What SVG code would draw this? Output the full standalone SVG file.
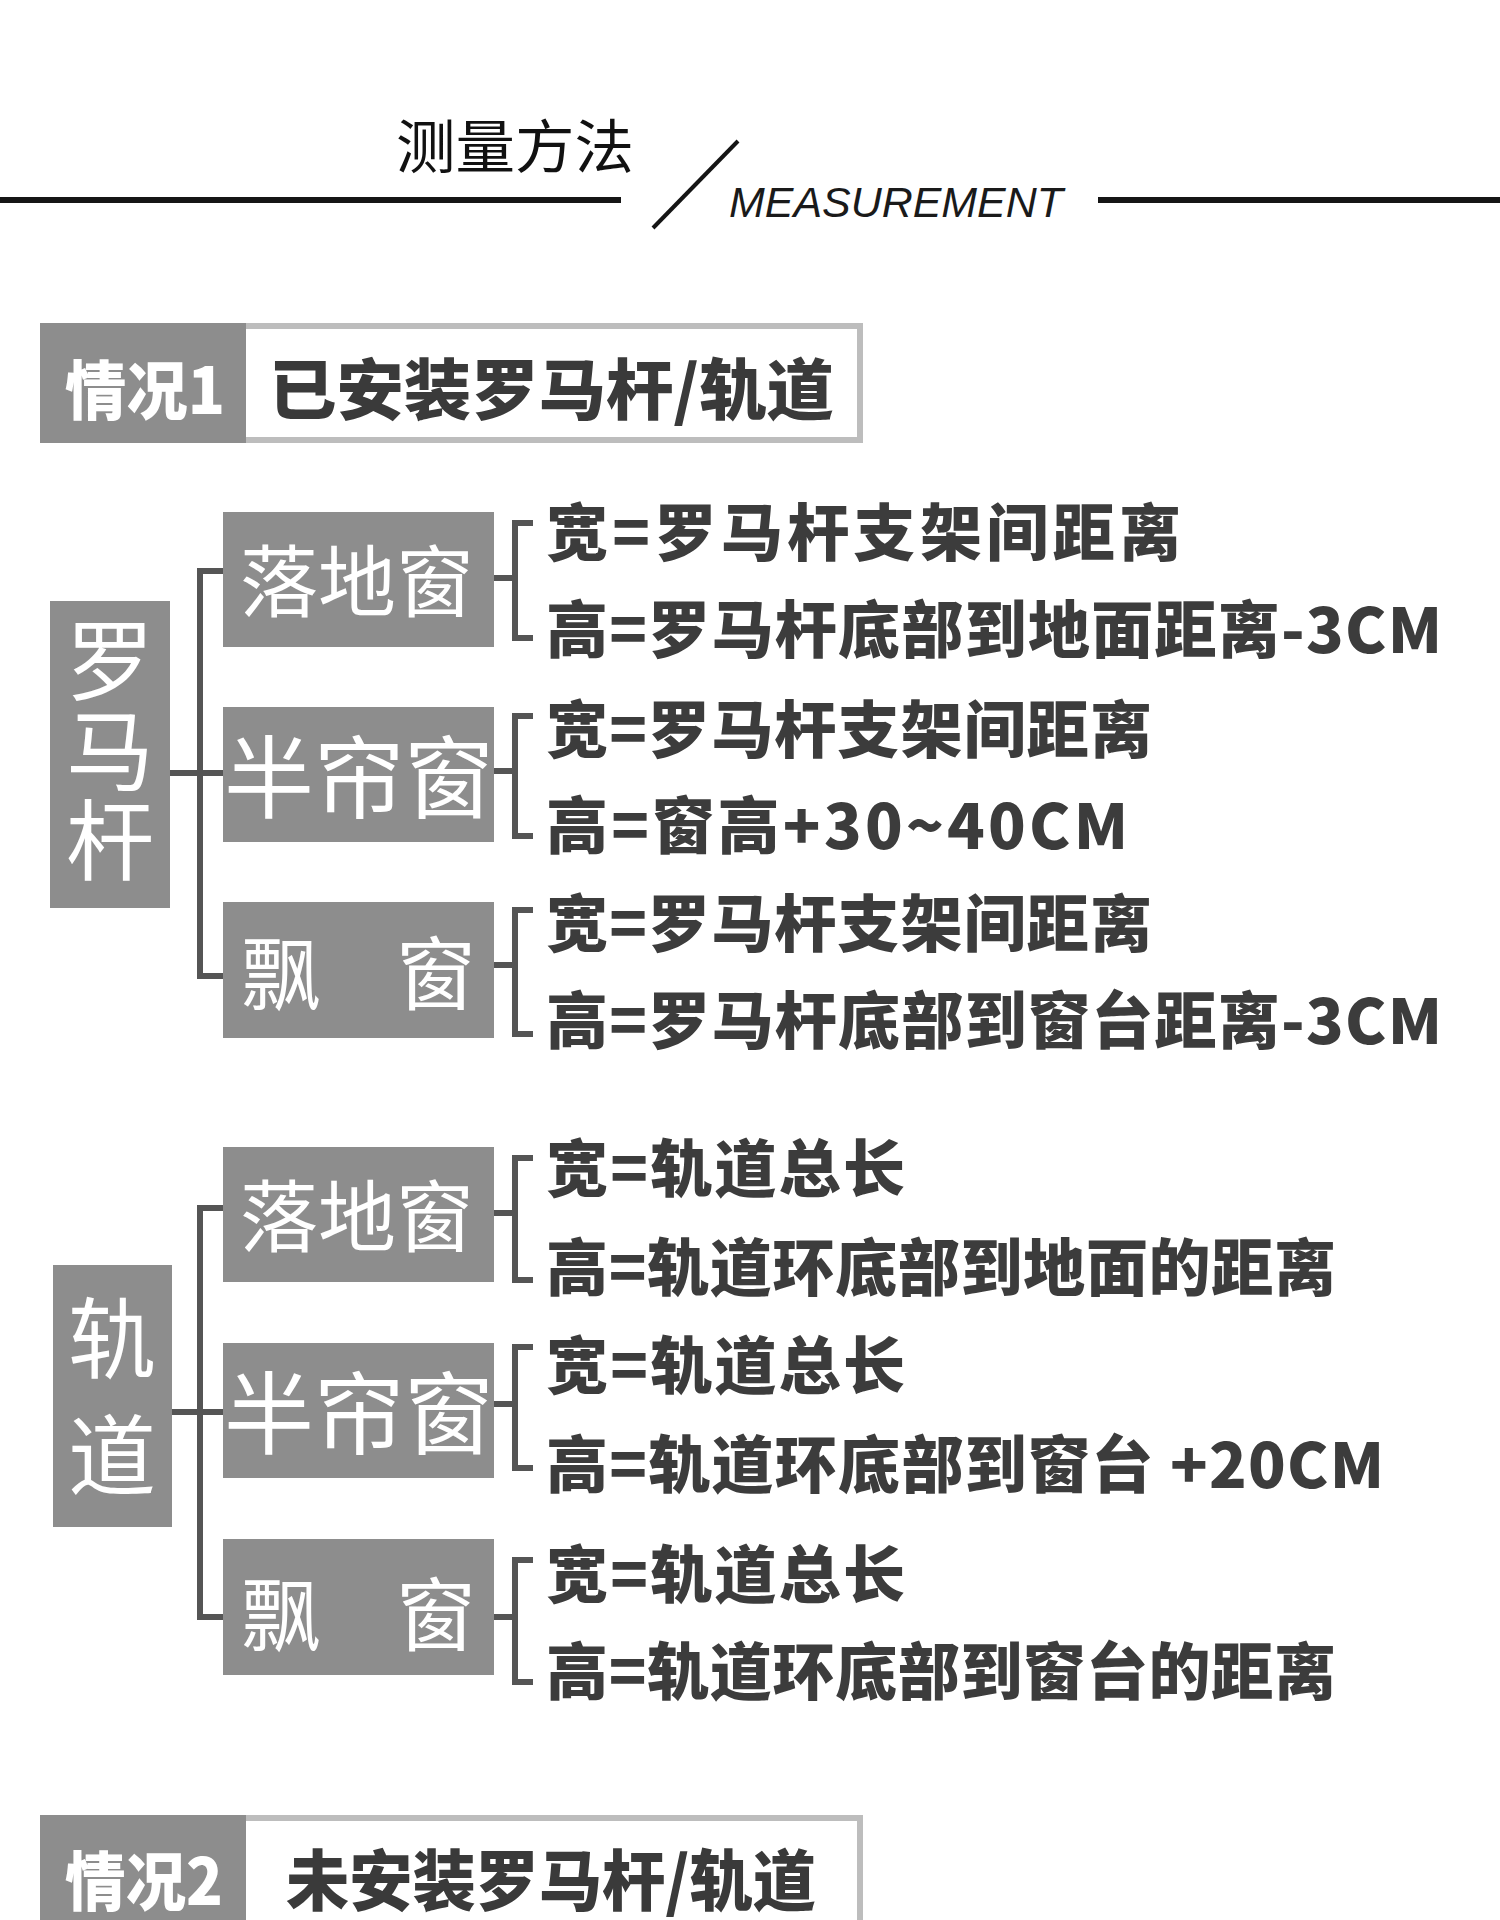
<svg xmlns="http://www.w3.org/2000/svg" width="1500" height="1920" viewBox="0 0 1500 1920">
<style>
.box{fill:#8d8d8d}
.lbl{fill:#ffffff;font-family:"Noto Sans CJK SC","Noto Sans",sans-serif;font-weight:400}
.vlbl{fill:#ffffff;font-family:"Noto Sans CJK SC","Noto Sans",sans-serif;font-weight:400;font-size:88px;writing-mode:tb}
.line{fill:#3c3c3c;font-family:"Noto Sans CJK SC","Noto Sans",sans-serif;font-weight:900;font-size:62px}
.conn{fill:none;stroke:#555555;stroke-width:6}
.ttl{font-family:"Noto Sans CJK SC","Noto Sans",sans-serif;font-weight:900}
</style>
<rect width="1500" height="1920" fill="#ffffff"/>
<g id="header">
<rect x="0" y="197" width="621" height="6" fill="#151515"/>
<rect x="1098" y="197" width="402" height="6" fill="#151515"/>
<line x1="653" y1="228" x2="738" y2="141" stroke="#151515" stroke-width="4"/>
<text x="396" y="168" font-family="'Noto Sans CJK SC',sans-serif" font-size="58" fill="#111111" textLength="238" lengthAdjust="spacingAndGlyphs">测量方法</text>
<text x="729" y="217" font-family="'Liberation Sans',Arial,sans-serif" font-style="italic" font-size="42" fill="#1a1a1a" textLength="334" lengthAdjust="spacingAndGlyphs">MEASUREMENT</text>
</g>
<g id="case1">
<rect x="43" y="326" width="817" height="114" fill="#ffffff" stroke="#bdbdbd" stroke-width="6"/>
<rect x="40" y="323" width="206" height="120" fill="#8d8d8d"/>
<text class="ttl" x="65" y="414" font-size="64" fill="#ffffff" textLength="160" lengthAdjust="spacingAndGlyphs">情况1</text>
<text class="ttl" x="269" y="414" font-size="66" fill="#3a3a3a" textLength="565" lengthAdjust="spacingAndGlyphs">已安装罗马杆/轨道</text>
</g>
<g id="connectors">
<path class="conn" d="M170 773 H223 M223 571 H200 V976 H223"/>
<path class="conn" d="M494 578 H515 M533 523 H515 V638 H533"/>
<path class="conn" d="M494 771 H515 M533 716 H515 V836 H533"/>
<path class="conn" d="M494 965 H515 M533 910 H515 V1034 H533"/>
<path class="conn" d="M172 1412 H223 M223 1208 H200 V1617 H223"/>
<path class="conn" d="M494 1213 H515 M533 1158 H515 V1280 H533"/>
<path class="conn" d="M494 1404 H515 M533 1347 H515 V1468 H533"/>
<path class="conn" d="M494 1617 H515 M533 1560 H515 V1682 H533"/>
</g>
<g id="root-rod">
<rect class="box" x="50" y="601" width="120" height="307"/>
<text class="vlbl" x="110" y="616" letter-spacing="2">罗马杆</text>
</g>
<g id="rod-floor">
<rect class="box" x="223" y="512" width="271" height="135"/>
<text class="lbl" x="357" y="611" font-size="78" text-anchor="middle">落地窗</text>
</g>
<g id="rod-half">
<rect class="box" x="223" y="707" width="271" height="135"/>
<text class="lbl" x="359" y="811" font-size="90" text-anchor="middle">半帘窗</text>
</g>
<g id="rod-bay">
<rect class="box" x="223" y="902" width="271" height="136"/>
<text class="lbl" font-size="80" text-anchor="middle"><tspan x="281" y="1003">飘</tspan><tspan x="436" y="1003">窗</tspan></text>
</g>
<g id="rod-texts">
<text class="line" x="546" y="556" textLength="635" lengthAdjust="spacing">宽=罗马杆支架间距离</text>
<text class="line" x="546" y="653" textLength="896" lengthAdjust="spacing">高=罗马杆底部到地面距离-3CM</text>
<text class="line" x="546" y="753" textLength="606" lengthAdjust="spacing">宽=罗马杆支架间距离</text>
<text class="line" x="546" y="849" textLength="582" lengthAdjust="spacing">高=窗高+30~40CM</text>
<text class="line" x="546" y="947" textLength="606" lengthAdjust="spacing">宽=罗马杆支架间距离</text>
<text class="line" x="546" y="1044" textLength="896" lengthAdjust="spacing">高=罗马杆底部到窗台距离-3CM</text>
</g>
<g id="root-track">
<rect class="box" x="53" y="1265" width="119" height="262"/>
<text class="vlbl" x="112" y="1294" letter-spacing="29">轨道</text>
</g>
<g id="track-floor">
<rect class="box" x="223" y="1147" width="271" height="135"/>
<text class="lbl" x="357" y="1246" font-size="78" text-anchor="middle">落地窗</text>
</g>
<g id="track-half">
<rect class="box" x="223" y="1343" width="271" height="135"/>
<text class="lbl" x="359" y="1447" font-size="90" text-anchor="middle">半帘窗</text>
</g>
<g id="track-bay">
<rect class="box" x="223" y="1539" width="271" height="136"/>
<text class="lbl" font-size="80" text-anchor="middle"><tspan x="281" y="1644">飘</tspan><tspan x="436" y="1644">窗</tspan></text>
</g>
<g id="track-texts">
<text class="line" x="546" y="1192" textLength="359" lengthAdjust="spacing">宽=轨道总长</text>
<text class="line" x="546" y="1291" textLength="790" lengthAdjust="spacing">高=轨道环底部到地面的距离</text>
<text class="line" x="546" y="1389" textLength="359" lengthAdjust="spacing">宽=轨道总长</text>
<text class="line" x="546" y="1488" textLength="838" lengthAdjust="spacing">高=轨道环底部到窗台 +20CM</text>
<text class="line" x="546" y="1598" textLength="359" lengthAdjust="spacing">宽=轨道总长</text>
<text class="line" x="546" y="1695" textLength="790" lengthAdjust="spacing">高=轨道环底部到窗台的距离</text>
</g>
<g id="case2">
<rect x="43" y="1818" width="817" height="114" fill="#ffffff" stroke="#bdbdbd" stroke-width="6"/>
<rect x="40" y="1815" width="206" height="120" fill="#8d8d8d"/>
<text class="ttl" x="65" y="1905" font-size="64" fill="#ffffff" textLength="158" lengthAdjust="spacingAndGlyphs">情况2</text>
<text class="ttl" x="286" y="1905" font-size="66" fill="#3a3a3a" textLength="530" lengthAdjust="spacingAndGlyphs">未安装罗马杆/轨道</text>
</g>
</svg>
